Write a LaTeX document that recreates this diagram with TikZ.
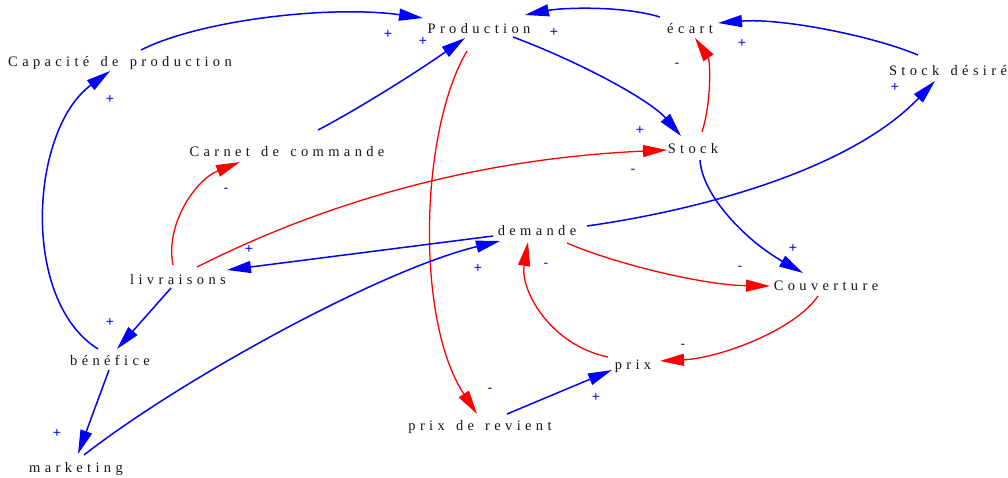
\documentclass[tikz,border=0pt]{standalone}
\usepackage{fontspec}
\setmainfont{Liberation Serif}
\newfontfamily\vfont{Liberation Serif}[LetterSpace=30,WordSpace=1.4]
\newfontfamily\sfont{Liberation Sans}
\usetikzlibrary{arrows.meta}
\definecolor{pblue}{RGB}{0,0,255}
\definecolor{pred}{RGB}{255,0,0}
\definecolor{ptext}{RGB}{20,20,20}
\tikzset{
  var/.style={anchor=base, inner sep=0pt, text=ptext, font=\vfont\fontsize{14.5}{16}\selectfont},
  sgn/.style={inner sep=0pt, text=pblue, font=\sfont\fontsize{14}{15}\selectfont},
  poslink/.style={draw=pblue, line width=1.5pt, -{Triangle[length=24pt,width=12pt]}},
  neglink/.style={draw=pred, line width=1.3pt, -{Triangle[length=24pt,width=12pt]}},
}
\begin{document}
\begin{tikzpicture}[x=1pt,y=-1pt]
\useasboundingbox (0,0) rectangle (1008,477);
% variables
\node[var] (prod) at (479,33) {Production};
\node[var] (ecart) at (690,33) {écart};
\node[var] (cap) at (120,66) {Capacité de production};
\node[var] (sdes) at (948,75) {Stock désiré};
\node[var] (carnet) at (287,156) {Carnet de commande};
\node[var] (stock) at (693,153) {Stock};
\node[var] (dem) at (537,235) {demande};
\node[var] (livr) at (178,284) {livraisons};
\node[var] (couv) at (826,290) {Couverture};
\node[var] (bene) at (110,365) {bénéfice};
\node[var] (prix) at (633,369) {prix};
\node[var] (prev) at (480,430) {prix de revient};
\node[var] (mkt) at (76,472) {marketing};
% links
\draw[poslink] ([shift={(21,-16)}]cap.base) .. controls (200,20) and (330,5) .. ([shift={(-56,-15)}]prod.base);
\draw[poslink] ([shift={(31,-26)}]carnet.base) .. controls (360,108) and (420,70) .. ([shift={(-14,5)}]prod.base);
\draw[poslink] ([shift={(34,4)}]prod.base) .. controls (580,62) and (650,100) .. ([shift={(-12,-17)}]stock.base);
\draw[neglink] ([shift={(-12,18)}]prod.base) .. controls (420,130) and (415,320) .. ([shift={(-3,-16)}]prev.base);
\draw[poslink] ([shift={(-30,-16)}]ecart.base) .. controls (620,5) and (560,8) .. ([shift={(46,-18)}]prod.base);
\draw[poslink] ([shift={(-30,-20)}]sdes.base) .. controls (870,35) and (780,18) .. ([shift={(28,-10)}]ecart.base);
\draw[neglink] ([shift={(9,-21)}]stock.base) .. controls (712,100) and (710,60) .. ([shift={(5,5)}]ecart.base);
\draw[poslink] ([shift={(50,-9)}]dem.base) .. controls (700,210) and (850,170) .. ([shift={(-13,6)}]sdes.base);
\draw[poslink] ([shift={(7,7)}]stock.base) .. controls (702,195) and (745,240) .. ([shift={(-23,-17)}]couv.base);
\draw[neglink] ([shift={(19,-17)}]livr.base) .. controls (300,215) and (450,160) .. ([shift={(-26,-3)}]stock.base);
\draw[poslink] ([shift={(-44,1)}]dem.base) -- ([shift={(49,-14)}]livr.base);
\draw[neglink] ([shift={(-5,-19)}]livr.base) .. controls (165,225) and (195,180) .. ([shift={(-47,6)}]carnet.base);
\draw[poslink] ([shift={(-7,4)}]livr.base) -- ([shift={(7,-16)}]bene.base);
\draw[poslink] ([shift={(-12,-16)}]bene.base) .. controls (20,300) and (30,130) .. ([shift={(-10,5)}]cap.base);
\draw[poslink] ([shift={(-1,5)}]bene.base) -- ([shift={(2,-18)}]mkt.base);
\draw[poslink] ([shift={(8,-17)}]mkt.base) .. controls (180,380) and (380,270) .. ([shift={(-37,6)}]dem.base);
\draw[neglink] ([shift={(30,8)}]dem.base) .. controls (610,262) and (700,285) .. ([shift={(-56,-4)}]couv.base);
\draw[neglink] ([shift={(-8,6)}]couv.base) .. controls (795,330) and (720,358) .. ([shift={(27,-8)}]prix.base);
\draw[neglink] ([shift={(-25,-12)}]prix.base) .. controls (550,345) and (520,290) .. ([shift={(-9,7)}]dem.base);
\draw[poslink] ([shift={(27,-16)}]prev.base) -- ([shift={(-21,1)}]prix.base);
% polarity signs
\node[sgn] (s1) at (388,34) {+};
\node[sgn] (s2) at (423,41) {+};
\node[sgn] (s3) at (554,32) {+};
\node[sgn] (s4) at (742,43) {+};
\node[sgn] (s5) at (640,130) {+};
\node[sgn] (s6) at (895,87) {+};
\node[sgn] (s7) at (110,99) {+};
\node[sgn] (s8) at (249,249) {+};
\node[sgn] (s9) at (478,268) {+};
\node[sgn] (s10) at (793,248) {+};
\node[sgn] (s11) at (110,322) {+};
\node[sgn] (s12) at (57,433) {+};
\node[sgn] (s13) at (596,397) {+};
\node[sgn] (m1) at (677,65) {-};
\node[sgn] (m2) at (633,171) {-};
\node[sgn] (m3) at (226,190) {-};
\node[sgn] (m4) at (546,265) {-};
\node[sgn] (m5) at (740,268) {-};
\node[sgn] (m6) at (683,346) {-};
\node[sgn] (m7) at (490,390) {-};
\end{tikzpicture}
\end{document}
